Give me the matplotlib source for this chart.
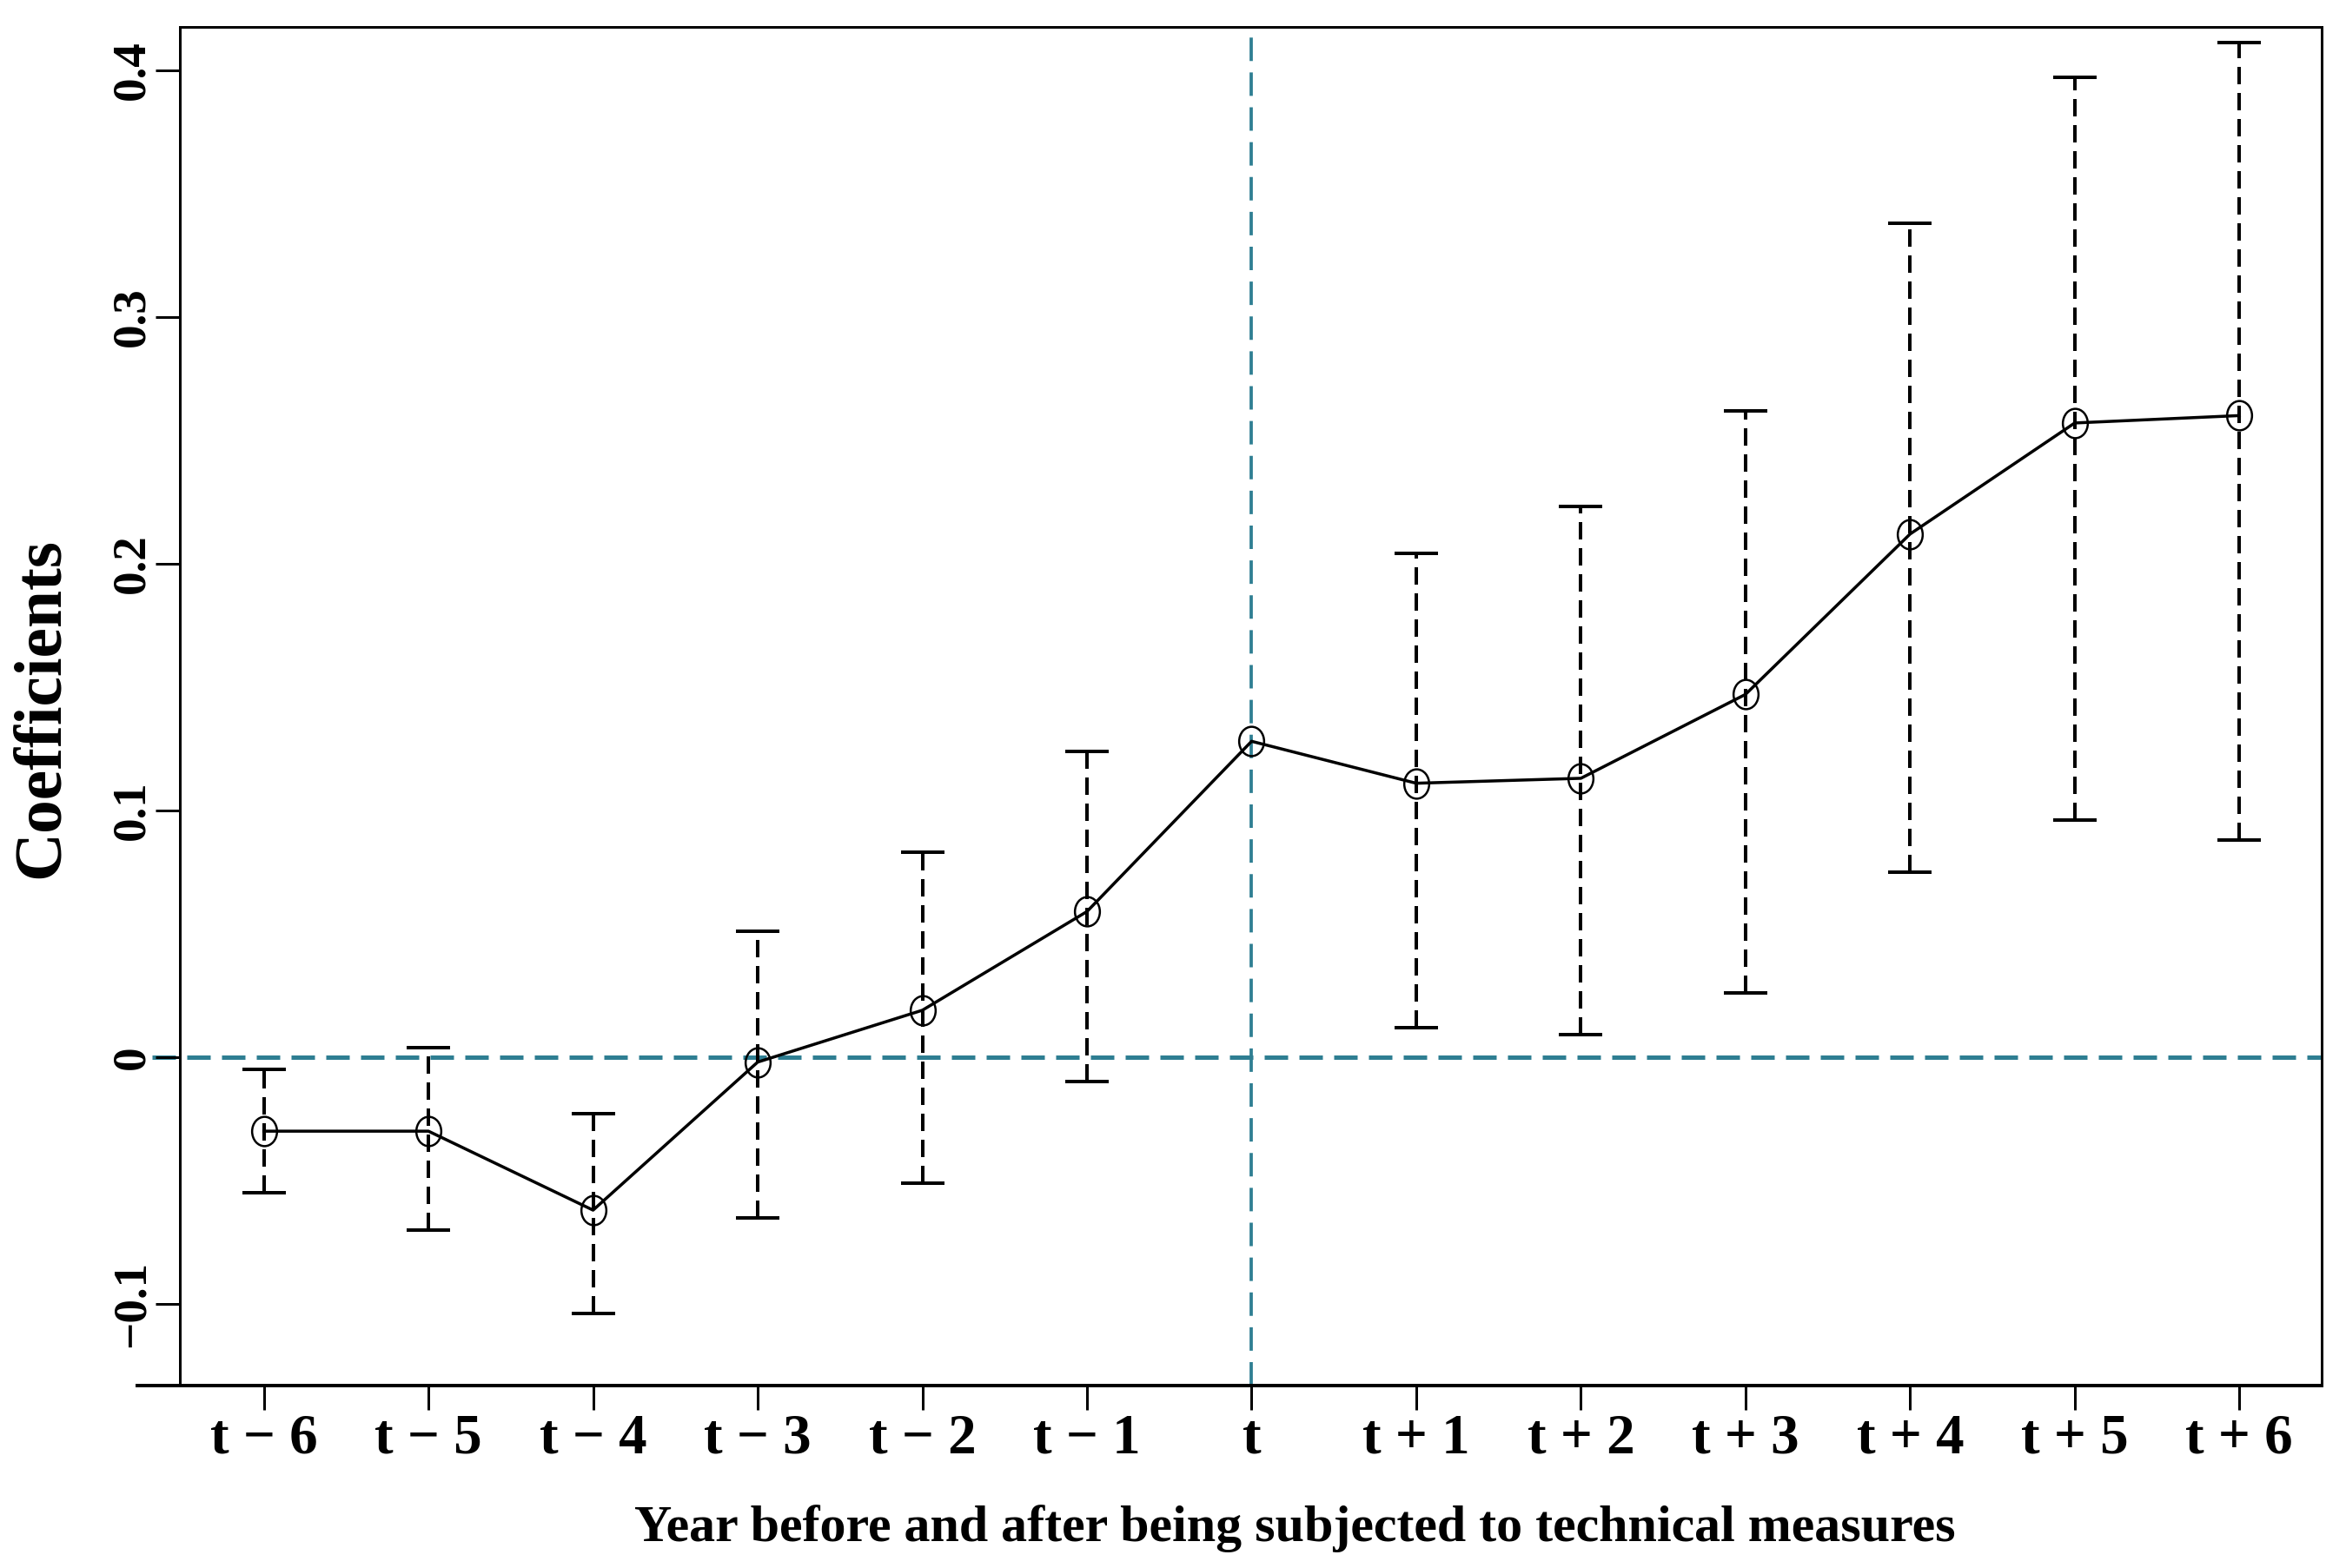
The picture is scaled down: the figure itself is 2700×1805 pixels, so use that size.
import matplotlib
matplotlib.use("Agg")
import matplotlib.pyplot as plt
from matplotlib.markers import MarkerStyle
from matplotlib.transforms import Affine2D

# event-study coefficients, t is the year of the technical measures
period_labels = ['t − 6', 't − 5', 't − 4', 't − 3', 't − 2', 't − 1', 't',
                 't + 1', 't + 2', 't + 3', 't + 4', 't + 5', 't + 6']
rel_year = [-6, -5, -4, -3, -2, -1, 0, 1, 2, 3, 4, 5, 6]
coef = [-0.030, -0.030, -0.062, -0.002, 0.019, 0.059, 0.128,
        0.111, 0.113, 0.147, 0.212, 0.257, 0.260]
# confidence bounds (no interval drawn at t)
ci_low = [-0.055, -0.070, -0.104, -0.065, -0.051, -0.010, None,
          0.012, 0.009, 0.026, 0.075, 0.096, 0.088]
ci_high = [-0.005, 0.004, -0.023, 0.051, 0.083, 0.124, None,
           0.204, 0.223, 0.262, 0.338, 0.397, 0.411]

y_ticks = [-0.1, 0, 0.1, 0.2, 0.3, 0.4]
y_tick_labels = ['−0.1', '0', '0.1', '0.2', '0.3', '0.4']

teal = '#2E7E92'

plt.rcParams['font.family'] = 'Liberation Serif'
plt.rcParams['font.weight'] = 'bold'

fig = plt.figure(figsize=(15, 1805 / 180), dpi=180)
ax = fig.add_axes([207 / 2700, 1 - 1595 / 1805, (2672 - 207) / 2700, (1595 - 31) / 1805])

# error bars with dashed stems and solid caps
keep = [i for i in range(len(rel_year)) if ci_low[i] is not None]
xs = [rel_year[i] for i in keep]
ys = [coef[i] for i in keep]
err_lo = [coef[i] - ci_low[i] for i in keep]
err_hi = [ci_high[i] - coef[i] for i in keep]
eb = ax.errorbar(xs, ys, yerr=[err_lo, err_hi], fmt='none', ecolor='black',
                 elinewidth=1.6, capsize=10.2, capthick=1.6, zorder=2)
eb[2][0].set_linestyle((0, (5, 2.5)))

# reference lines
ax.plot([-0.013, 1], [0, 0], transform=ax.get_yaxis_transform(), clip_on=False,
        color=teal, lw=2.0, linestyle=(0, (5.4, 2.6)), zorder=1)
ax.axvline(0, color=teal, lw=1.5, linestyle=(0, (7.2, 3.5)), zorder=1)

# coefficient path
oval = MarkerStyle('o', transform=Affine2D().scale(0.85, 1.0))
ax.plot(rel_year, coef, color='black', lw=1.4, marker=oval, markersize=13.5,
        markerfacecolor='none', markeredgecolor='black', markeredgewidth=1.0, zorder=3)

ax.set_xlim(-6.51, 6.5)
ax.set_ylim(-0.1331, 0.4175)

ax.set_xticks(rel_year, period_labels, fontsize=26)
ax.set_yticks(y_ticks, y_tick_labels, fontsize=22, rotation=90, va='center')
ax.tick_params(axis='both', direction='out', length=11.2, width=1.2)
ax.tick_params(axis='x', pad=1.5)
ax.tick_params(axis='y', pad=0.5)

for side in ['left', 'right', 'top']:
    ax.spines[side].set_linewidth(1.2)
ax.spines['bottom'].set_linewidth(1.6)
# x axis line runs a bit past the box on the left
ax.plot([-0.02, 0], [0, 0], transform=ax.transAxes, clip_on=False, color='black', lw=1.6)

fig.text(0.552, 45 / 1805, 'Year before and after being subjected to technical measures',
         ha='center', va='center', fontsize=24)
fig.text(0.018, 1 - 815 / 1805, 'Coefficients', rotation=90, ha='center', va='center',
         fontsize=31)

fig.savefig('out.png', dpi=180)
